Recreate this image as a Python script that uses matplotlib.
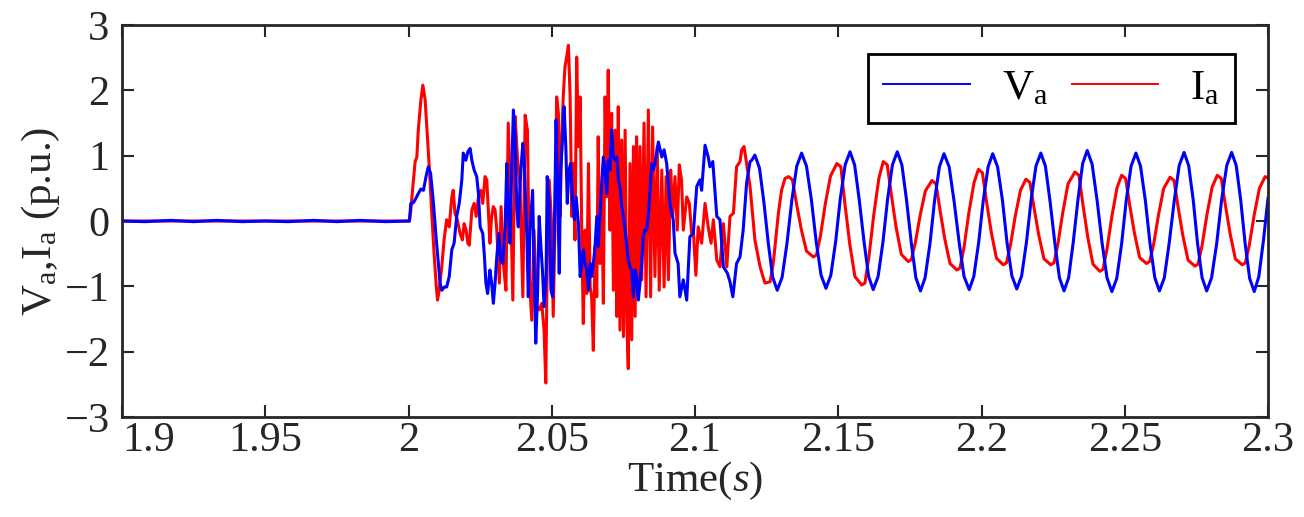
import matplotlib
matplotlib.use('Agg')
import matplotlib.pyplot as plt

# ---- data: (time [s], value [p.u.]) ----
va_pre = [(1.9000, 0.00), (1.9080, -0.01), (1.9170, 0.01), (1.9250, -0.01), (1.9330, 0.01),
          (1.9420, -0.01), (1.9500, 0.00), (1.9580, -0.01), (1.9670, 0.01), (1.9750, -0.01),
          (1.9830, 0.01), (1.9920, -0.01), (2.0000, 0.00)]

va_fault = [(2.0003, 0.00), (2.0008, 0.27), (2.0017, 0.28), (2.0026, 0.35), (2.0034, 0.42),
            (2.0043, 0.49), (2.0052, 0.47), (2.0061, 0.68), (2.0069, 0.83), (2.0077, 0.73),
            (2.0087, 0.27), (2.0096, -0.24), (2.0104, -0.65), (2.0110, -0.95), (2.0116, -1.06),
            (2.0125, -1.01), (2.0133, -1.01), (2.0142, -0.85), (2.0151, -0.44), (2.0159, -0.34),
            (2.0168, 0.07), (2.0177, 0.27), (2.0186, 0.63), (2.0191, 1.04), (2.0200, 0.93),
            (2.0207, 1.06), (2.0215, 1.11), (2.0221, 0.93), (2.0229, 0.78), (2.0238, 0.68),
            (2.0244, 0.42), (2.0250, -0.09), (2.0259, -0.19), (2.0265, -0.55), (2.0270, -0.95),
            (2.0276, -1.11), (2.0284, -0.75), (2.0290, -0.95), (2.0296, -1.26), (2.0302, -0.95),
            (2.0308, -0.55), (2.0315, -0.19), (2.0322, -0.60), (2.0329, -0.65), (2.0337, -0.09),
            (2.0343, 0.88), (2.0348, 0.17), (2.0354, -0.34), (2.0360, 0.78), (2.0366, 1.70),
            (2.0372, 1.29), (2.0378, 0.17), (2.0383, -0.09), (2.0392, 0.78), (2.0399, 1.19),
            (2.0404, 0.88), (2.0413, -0.24), (2.0418, -1.16), (2.0424, -0.14), (2.0433, 0.47),
            (2.0438, -0.65), (2.0444, -1.87), (2.0450, -1.16), (2.0456, 0.07), (2.0462, -0.39),
            (2.0468, -0.80), (2.0473, -1.31), (2.0480, -0.85), (2.0484, 0.68), (2.0491, 0.27),
            (2.0497, -1.06), (2.0503, -1.16), (2.0509, -0.14), (2.0515, 1.55), (2.0521, 0.37),
            (2.0526, -0.80), (2.0531, 0.78), (2.0538, 1.29), (2.0543, 1.75), (2.0549, 1.14),
            (2.0554, 0.27), (2.0560, 0.78), (2.0566, 0.88), (2.0573, 0.27), (2.0579, 0.02),
            (2.0585, 0.37), (2.0593, -0.04), (2.0599, -0.85), (2.0605, -0.65), (2.0610, -0.44),
            (2.0616, -0.65), (2.0622, -0.75), (2.0628, -1.06), (2.0634, -0.65), (2.0639, -0.85),
            (2.0645, -0.65), (2.0651, -0.39), (2.0657, 0.07), (2.0662, -0.39), (2.0668, 0.07),
            (2.0674, 0.58), (2.0680, 0.98), (2.0686, 0.78), (2.0692, 0.42), (2.0697, 0.93),
            (2.0703, 0.78), (2.0709, 1.39), (2.0715, 0.98), (2.0721, 0.93), (2.0727, 0.98),
            (2.0732, 0.63), (2.0738, 0.53), (2.0744, 0.22), (2.0750, 0.07), (2.0756, -0.14),
            (2.0762, -0.39), (2.0767, -0.60), (2.0773, -0.70), (2.0779, -0.75), (2.0785, -1.16),
            (2.0791, -0.75), (2.0796, -0.85), (2.0802, -1.21), (2.0808, -0.95), (2.0814, -0.65),
            (2.0819, -0.24), (2.0825, -0.14), (2.0831, -0.14), (2.0837, 0.07), (2.0843, 0.47),
            (2.0849, 0.88), (2.0854, 0.78), (2.0860, 0.88), (2.0872, 1.21), (2.0884, 0.98),
            (2.0892, 1.09), (2.0901, 0.88), (2.0913, 0.24), (2.0924, 0.02), (2.0930, -0.49),
            (2.0941, -0.65), (2.0947, -1.16), (2.0959, -0.90), (2.0971, -1.21), (2.0982, -0.24),
            (2.0994, -0.19), (2.1006, 0.53), (2.1017, 0.63), (2.1023, 0.47), (2.1035, 1.16),
            (2.1046, 0.98), (2.1052, 0.83), (2.1062, 0.91), (2.1076, 0.07), (2.1087, 0.02),
            (2.1099, -0.70), (2.1113, -0.80), (2.1122, -0.93), (2.1132, -1.16), (2.1145, -0.65),
            (2.1157, -0.55), (2.1168, -0.14), (2.1180, 0.58), (2.1192, 0.91), (2.1198, 0.93)]

va_steady = [(2.1209, 1.01), (2.1225, 0.81), (2.1240, 0.30), (2.1256, -0.35), (2.1271, -0.86),
             (2.1287, -1.06), (2.1304, -0.86), (2.1321, -0.34), (2.1338, 0.32), (2.1355, 0.84),
             (2.1372, 1.04), (2.1389, 0.84), (2.1406, 0.33), (2.1423, -0.32), (2.1440, -0.83),
             (2.1457, -1.03), (2.1474, -0.83), (2.1491, -0.31), (2.1507, 0.34), (2.1524, 0.86),
             (2.1541, 1.06), (2.1557, 0.86), (2.1573, 0.33), (2.1590, -0.32), (2.1606, -0.85),
             (2.1622, -1.05), (2.1639, -0.85), (2.1656, -0.32), (2.1672, 0.33), (2.1689, 0.86),
             (2.1706, 1.06), (2.1722, 0.86), (2.1738, 0.33), (2.1755, -0.34), (2.1771, -0.87),
             (2.1787, -1.07), (2.1803, -0.87), (2.1820, -0.35), (2.1836, 0.31), (2.1853, 0.83),
             (2.1869, 1.03), (2.1887, 0.83), (2.1904, 0.31), (2.1922, -0.33), (2.1939, -0.85),
             (2.1957, -1.05), (2.1973, -0.85), (2.1990, -0.33), (2.2006, 0.31), (2.2023, 0.83),
             (2.2039, 1.03), (2.2056, 0.83), (2.2073, 0.32), (2.2089, -0.33), (2.2106, -0.84),
             (2.2123, -1.04), (2.2140, -0.84), (2.2157, -0.32), (2.2173, 0.32), (2.2190, 0.84),
             (2.2207, 1.04), (2.2223, 0.84), (2.2239, 0.31), (2.2256, -0.34), (2.2272, -0.87),
             (2.2288, -1.07), (2.2304, -0.87), (2.2320, -0.33), (2.2337, 0.34), (2.2353, 0.88),
             (2.2369, 1.08), (2.2386, 0.87), (2.2403, 0.33), (2.2421, -0.34), (2.2438, -0.87),
             (2.2455, -1.08), (2.2472, -0.88), (2.2489, -0.35), (2.2505, 0.31), (2.2522, 0.84),
             (2.2539, 1.04), (2.2555, 0.84), (2.2572, 0.31), (2.2588, -0.34), (2.2605, -0.87),
             (2.2621, -1.07), (2.2638, -0.87), (2.2655, -0.34), (2.2673, 0.32), (2.2690, 0.85),
             (2.2707, 1.05), (2.2723, 0.85), (2.2739, 0.32), (2.2754, -0.34), (2.2770, -0.87),
             (2.2786, -1.07), (2.2803, -0.87), (2.2821, -0.34), (2.2838, 0.32), (2.2856, 0.85),
             (2.2873, 1.05), (2.2889, 0.85), (2.2905, 0.31), (2.2920, -0.34), (2.2936, -0.88),
             (2.2952, -1.08), (2.2968, -0.85), (2.2984, -0.30), (2.3000, 0.35)]

ia_pre = [(1.9000, 0.00), (2.0000, 0.00)]

ia_fault = [(2.0003, 0.00), (2.0008, 0.17), (2.0015, 0.53), (2.0023, 0.91), (2.0029, 0.98),
            (2.0034, 1.39), (2.0043, 1.85), (2.0050, 2.08), (2.0058, 1.85), (2.0066, 1.29),
            (2.0073, 0.78), (2.0081, 0.12), (2.0089, -0.49), (2.0096, -0.95), (2.0101, -1.21),
            (2.0107, -1.06), (2.0116, -0.70), (2.0124, -0.29), (2.0133, 0.02), (2.0142, -0.09),
            (2.0151, 0.37), (2.0156, 0.47), (2.0162, 0.12), (2.0170, 0.02), (2.0180, -0.19),
            (2.0188, -0.29), (2.0194, -0.04), (2.0201, -0.14), (2.0207, -0.34), (2.0212, -0.37),
            (2.0221, 0.17), (2.0229, 0.27), (2.0236, 0.07), (2.0244, 0.37), (2.0252, 0.47),
            (2.0259, 0.27), (2.0267, 0.68), (2.0273, 0.63), (2.0279, 0.12), (2.0284, -0.34),
            (2.0290, 0.07), (2.0296, 0.22), (2.0302, 0.17), (2.0308, -0.14), (2.0317, -0.95),
            (2.0323, 0.22), (2.0331, -0.65), (2.0340, -1.06), (2.0348, 1.50), (2.0357, 0.17),
            (2.0364, -1.21), (2.0372, 1.60), (2.0380, 0.98), (2.0389, 0.53), (2.0399, -1.16),
            (2.0407, 1.62), (2.0415, 1.39), (2.0422, -0.90), (2.0430, -1.52), (2.0438, -0.14),
            (2.0447, -1.31), (2.0456, -1.36), (2.0465, -1.26), (2.0473, -1.67), (2.0479, -2.48),
            (2.0484, -0.65), (2.0491, 0.63), (2.0500, -0.09), (2.0505, -1.46), (2.0511, -0.14),
            (2.0517, 1.90), (2.0523, 1.65), (2.0529, 0.07), (2.0535, 1.29), (2.0540, 1.90),
            (2.0546, 2.36), (2.0552, 2.51), (2.0558, 2.69), (2.0564, 1.90), (2.0570, 0.07),
            (2.0575, 0.88), (2.0581, -0.29), (2.0587, 2.51), (2.0593, 1.14), (2.0599, 1.90),
            (2.0605, -0.34), (2.0610, -1.57), (2.0616, -0.14), (2.0622, -1.11), (2.0628, 0.88),
            (2.0634, -1.01), (2.0639, -1.16), (2.0645, -1.98), (2.0651, -0.39), (2.0657, -1.16),
            (2.0662, 1.29), (2.0668, -0.65), (2.0674, 0.47), (2.0680, -1.26), (2.0686, 1.90),
            (2.0692, 0.37), (2.0697, 2.31), (2.0703, -0.14), (2.0709, 1.65), (2.0715, -1.06),
            (2.0721, 1.39), (2.0727, -1.46), (2.0732, 1.75), (2.0738, -1.67), (2.0744, 1.24),
            (2.0750, -1.77), (2.0756, 1.39), (2.0762, -1.57), (2.0767, -2.26), (2.0773, 0.88),
            (2.0779, -1.82), (2.0785, 1.14), (2.0791, -1.46), (2.0796, 1.29), (2.0802, -1.16),
            (2.0808, 1.14), (2.0814, -0.90), (2.0822, 1.50), (2.0829, -1.16), (2.0837, 1.70),
            (2.0845, -1.16), (2.0852, 1.44), (2.0860, -0.85), (2.0868, 1.14), (2.0875, -1.06),
            (2.0884, 0.78), (2.0892, -1.01), (2.0899, 0.68), (2.0907, -0.90), (2.0915, 0.78),
            (2.0922, 0.07), (2.0930, 0.68), (2.0938, -0.14), (2.0945, 0.86), (2.0953, 0.63),
            (2.0959, -0.14), (2.0971, 0.37), (2.0980, 0.27), (2.0988, -0.18), (2.0994, -0.14),
            (2.1003, -0.83), (2.1011, -0.09), (2.1023, -0.34), (2.1035, 0.27), (2.1046, -0.09),
            (2.1056, -0.34), (2.1064, 0.02), (2.1076, -0.60), (2.1087, -0.70), (2.1099, -0.04),
            (2.1111, -0.70), (2.1122, 0.07), (2.1134, 0.12), (2.1145, 0.83), (2.1157, 0.91),
            (2.1163, 1.09), (2.1171, 1.14), (2.1180, 0.88), (2.1192, 0.53), (2.1209, -0.29),
            (2.1227, -0.70), (2.1244, -0.95), (2.1262, -0.93), (2.1273, -0.65), (2.1291, 0.12),
            (2.1302, 0.47), (2.1314, 0.65)]

ia_steady = [(2.1326, 0.68), (2.1340, 0.63), (2.1354, 0.27), (2.1371, -0.13), (2.1389, -0.46),
             (2.1413, -0.55), (2.1424, -0.52), (2.1438, -0.22), (2.1455, 0.27), (2.1473, 0.69),
             (2.1495, 0.88), (2.1509, 0.83), (2.1523, 0.27), (2.1540, -0.35), (2.1558, -0.85),
             (2.1582, -0.98), (2.1593, -0.95), (2.1607, -0.55), (2.1624, 0.10), (2.1642, 0.66),
             (2.1657, 0.91), (2.1671, 0.86), (2.1685, 0.41), (2.1702, -0.10), (2.1720, -0.51),
             (2.1744, -0.62), (2.1755, -0.59), (2.1769, -0.33), (2.1786, 0.09), (2.1804, 0.46),
             (2.1827, 0.62), (2.1841, 0.57), (2.1855, 0.17), (2.1872, -0.28), (2.1890, -0.65),
             (2.1914, -0.75), (2.1925, -0.72), (2.1939, -0.40), (2.1956, 0.13), (2.1974, 0.59),
             (2.1989, 0.79), (2.2003, 0.74), (2.2017, 0.31), (2.2034, -0.17), (2.2052, -0.57),
             (2.2076, -0.67), (2.2087, -0.64), (2.2101, -0.37), (2.2118, 0.08), (2.2136, 0.47),
             (2.2155, 0.64), (2.2169, 0.59), (2.2183, 0.21), (2.2200, -0.22), (2.2218, -0.58),
             (2.2242, -0.67), (2.2253, -0.64), (2.2267, -0.34), (2.2284, 0.14), (2.2302, 0.57),
             (2.2326, 0.75), (2.2340, 0.70), (2.2354, 0.25), (2.2371, -0.25), (2.2389, -0.66),
             (2.2413, -0.77), (2.2424, -0.74), (2.2438, -0.43), (2.2455, 0.07), (2.2473, 0.51),
             (2.2489, 0.70), (2.2503, 0.65), (2.2517, 0.25), (2.2534, -0.19), (2.2552, -0.56),
             (2.2576, -0.65), (2.2587, -0.62), (2.2601, -0.35), (2.2618, 0.10), (2.2636, 0.50),
             (2.2658, 0.67), (2.2672, 0.62), (2.2686, 0.22), (2.2703, -0.23), (2.2721, -0.60),
             (2.2745, -0.69), (2.2756, -0.66), (2.2770, -0.37), (2.2787, 0.10), (2.2805, 0.52),
             (2.2823, 0.70), (2.2837, 0.65), (2.2851, 0.25), (2.2868, -0.20), (2.2886, -0.58),
             (2.2910, -0.67), (2.2921, -0.64), (2.2935, -0.36), (2.2952, 0.10), (2.2970, 0.50),
             (2.2990, 0.68), (2.3000, 0.66)]

x_ticks = [1.9, 1.95, 2.0, 2.05, 2.1, 2.15, 2.2, 2.25, 2.3]
x_tick_labels = ['1.9', '1.95', '2', '2.05', '2.1', '2.15', '2.2', '2.25', '2.3']
y_ticks = [-3, -2, -1, 0, 1, 2, 3]

# ---- style ----
plt.rcParams['font.family'] = ['Liberation Serif', 'DejaVu Serif']
plt.rcParams['mathtext.fontset'] = 'custom'
plt.rcParams['mathtext.rm'] = 'Liberation Serif'
plt.rcParams['mathtext.it'] = 'Liberation Serif:italic'

axis_col = '#262626'

fig = plt.figure(figsize=(13.04, 5.17), dpi=100)
ax = fig.add_axes([0.0936, 0.1934, 0.8788, 0.7582])

ia_t, ia_v = zip(*(ia_pre + ia_fault + ia_steady))
va_t, va_v = zip(*(va_pre + va_fault + va_steady))

# red first so the blue trace sits on top, like the original
red_line, = ax.plot(ia_t, ia_v, color=(1, 0, 0), lw=2.2)
blue_line, = ax.plot(va_t, va_v, color=(0, 0, 1), lw=2.2)

ax.set_xlim(1.9, 2.3)
ax.set_ylim(-3, 3)
ax.set_xticks(x_ticks)
ax.set_xticklabels(x_tick_labels)
ax.set_yticks(y_ticks)

ax.tick_params(direction='in', top=True, right=True, length=8.5, width=1.5,
               labelsize=30.5, colors=axis_col)
ax.tick_params(axis='y', pad=9)
ax.tick_params(axis='x', pad=3)
for s in ax.spines.values():
    s.set_linewidth(2)
    s.set_color(axis_col)

# first x label sits inside the figure edge (matlab style)
ax.xaxis.get_major_ticks()[0].label1.set_horizontalalignment('left')

ax.set_ylabel(r'V$_\mathrm{a}$,I$_\mathrm{a}$ (p.u.)', fontsize=31, color=axis_col)
ax.yaxis.set_label_coords(-0.052, 0.5)
ax.set_xlabel(r'Time($s$)', fontsize=31, color=axis_col)
ax.xaxis.set_label_coords(0.5, -0.11)

leg = ax.legend([blue_line, red_line], [r'V$_\mathrm{a}$', r'I$_\mathrm{a}$'], ncol=2,
                loc='upper right', bbox_to_anchor=(0.9712, 0.926), borderaxespad=0,
                fancybox=False, edgecolor='black', framealpha=1, fontsize=31,
                handlelength=2.0, handletextpad=0.75, columnspacing=0.55,
                borderpad=0.35)
leg.get_frame().set_linewidth(2)
for ln in leg.get_lines():
    ln.set_linewidth(1.4)

fig.savefig('out.png', dpi=100)
